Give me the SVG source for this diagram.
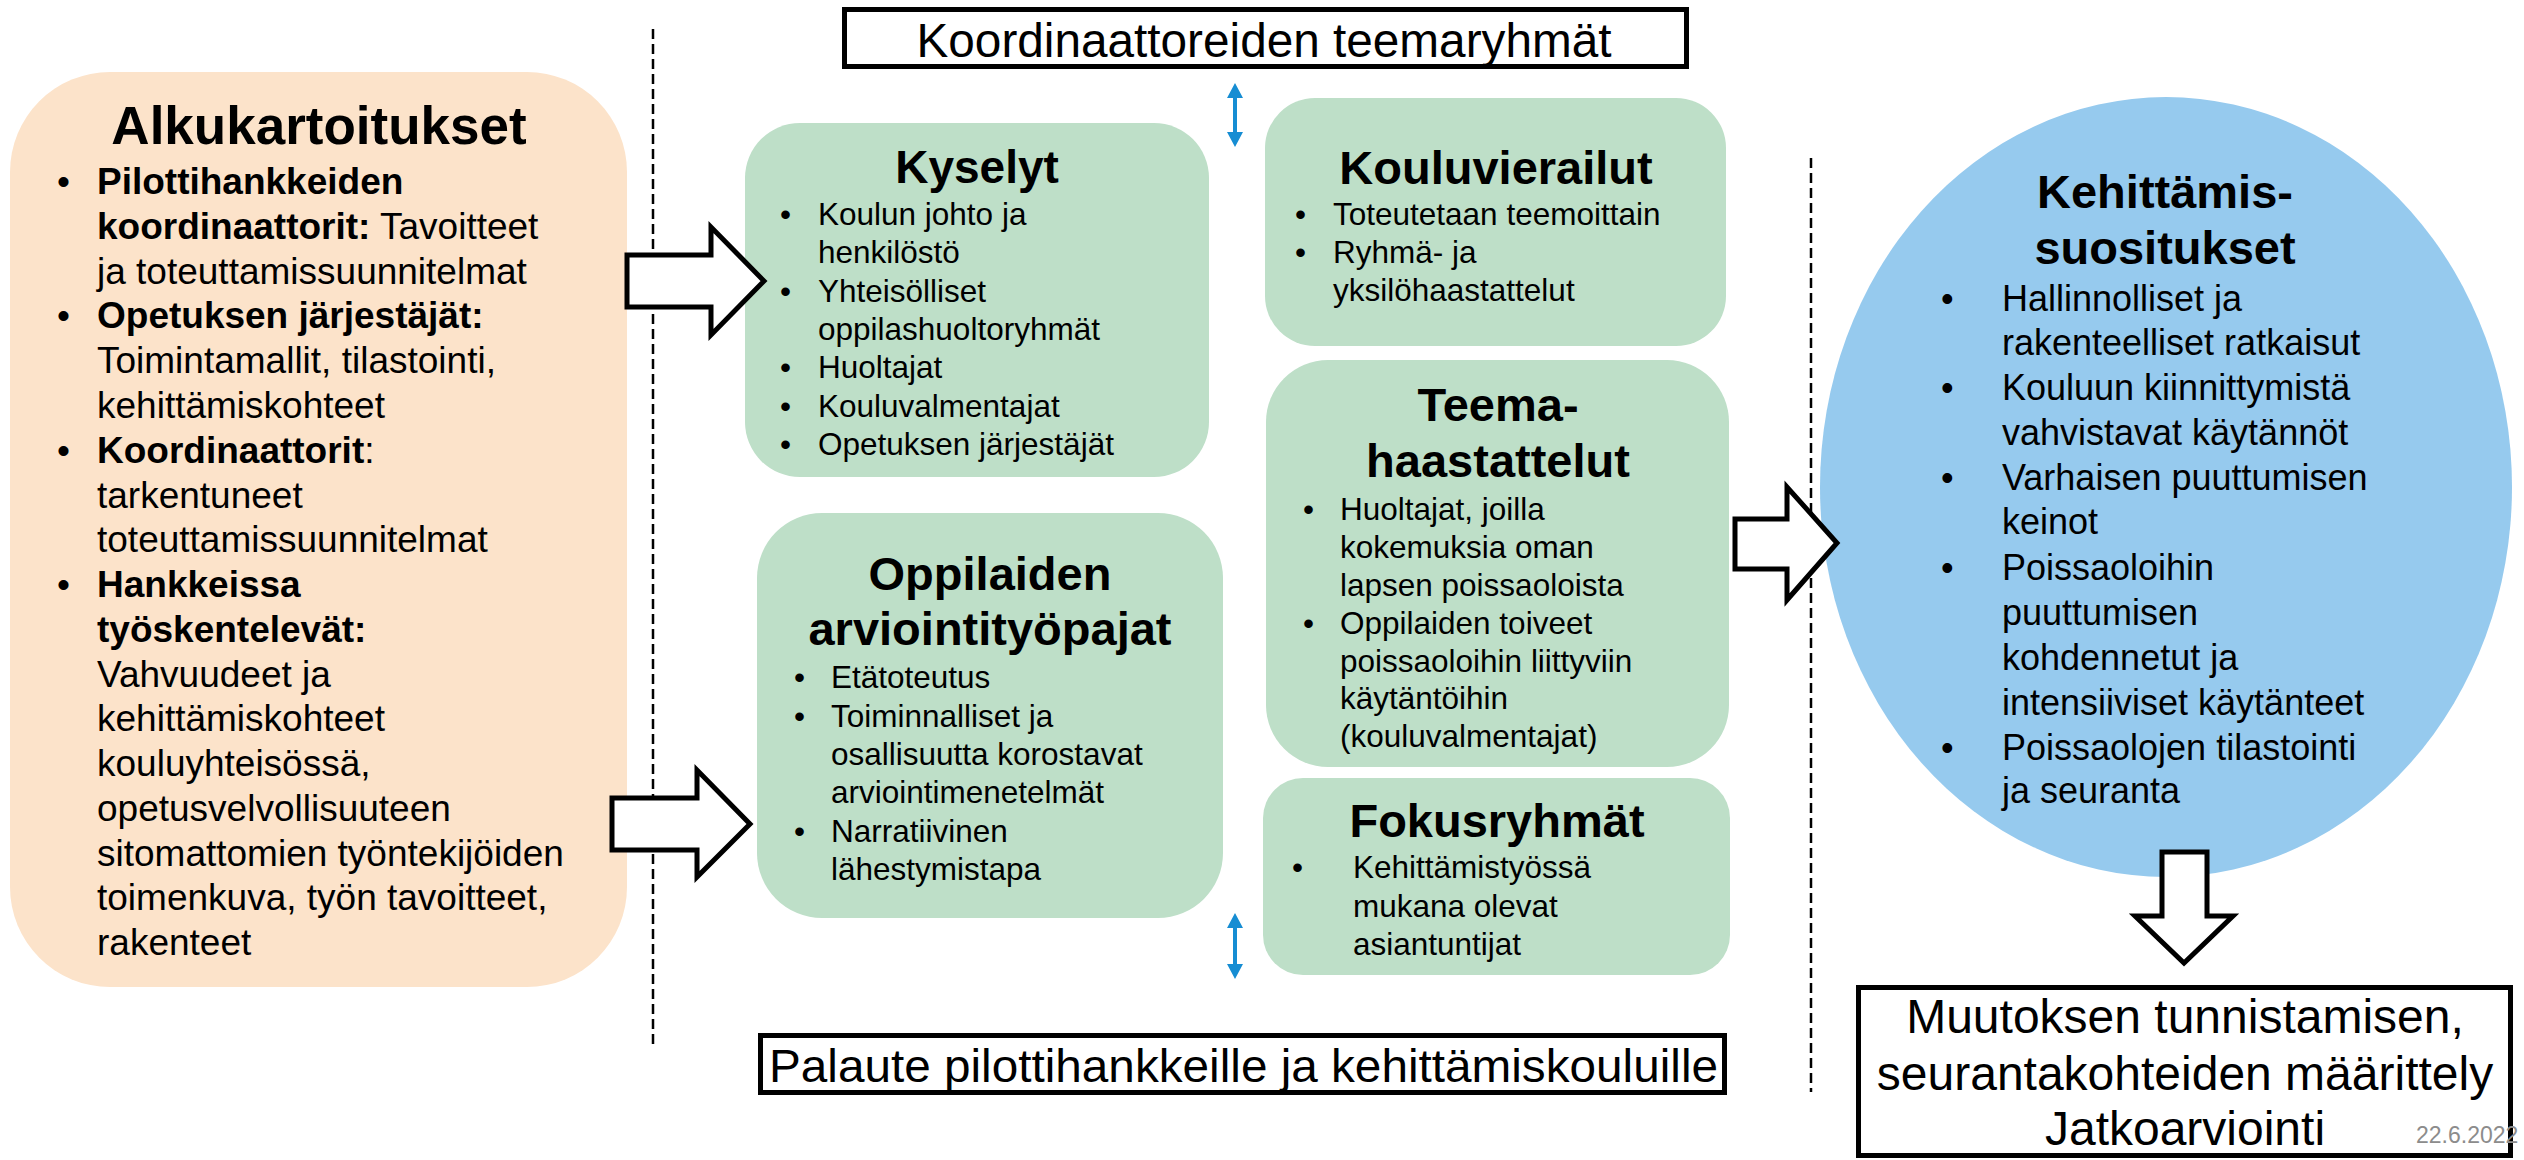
<svg xmlns="http://www.w3.org/2000/svg" width="2524" height="1160" viewBox="0 0 2524 1160">
<style>
text{font-family:"Liberation Sans",Arial,sans-serif;fill:#000}
.t{font-weight:bold;text-anchor:middle}
.lb{font-size:37px}
.gb{font-size:31.5px}
.eb{font-size:36px}
.b{font-weight:bold}
.green{fill:#BEDFC8}
.frame{fill:#fff;stroke:#000;stroke-width:5}
.blk{fill:#fff;stroke:#000;stroke-width:5;stroke-linejoin:miter}
.dash{stroke:#000;stroke-width:2.5;stroke-dasharray:10 5;fill:none}
.blue{fill:#168DD3}
</style>
<rect width="2524" height="1160" fill="#fff"/>

<g id="dividers">
<line class="dash" x1="653" y1="29" x2="653" y2="1045"/>
<line class="dash" x1="1811" y1="158" x2="1811" y2="1092"/>
</g>

<g id="alkukartoitukset">
<rect x="10" y="72" width="617" height="915" rx="100" fill="#FCE3CA"/>
<text class="t" x="319" y="144" font-size="53">Alkukartoitukset</text>
<g class="lb">
<text x="57" y="194">•</text><text x="97" y="194" class="b">Pilottihankkeiden</text>
<text x="97" y="239"><tspan class="b">koordinaattorit:</tspan> Tavoitteet</text>
<text x="97" y="284">ja toteuttamissuunnitelmat</text>
<text x="57" y="328">•</text><text x="97" y="328" class="b">Opetuksen järjestäjät:</text>
<text x="97" y="373">Toimintamallit, tilastointi,</text>
<text x="97" y="418">kehittämiskohteet</text>
<text x="57" y="463">•</text><text x="97" y="463"><tspan class="b">Koordinaattorit</tspan>:</text>
<text x="97" y="508">tarkentuneet</text>
<text x="97" y="552">toteuttamissuunnitelmat</text>
<text x="57" y="597">•</text><text x="97" y="597" class="b">Hankkeissa</text>
<text x="97" y="642" class="b">työskentelevät:</text>
<text x="97" y="687">Vahvuudeet ja</text>
<text x="97" y="731">kehittämiskohteet</text>
<text x="97" y="776">kouluyhteisössä,</text>
<text x="97" y="821">opetusvelvollisuuteen</text>
<text x="97" y="866">sitomattomien työntekijöiden</text>
<text x="97" y="910">toimenkuva, työn tavoitteet,</text>
<text x="97" y="955">rakenteet</text>
</g>
</g>

<g id="koordinaattorit">
<rect class="frame" x="844.5" y="9.5" width="842" height="57"/>
<text x="1264" y="57" font-size="48" text-anchor="middle" textLength="695" lengthAdjust="spacingAndGlyphs">Koordinaattoreiden teemaryhmät</text>
</g>

<g id="kyselyt">
<rect class="green" x="745" y="123" width="464" height="354" rx="55"/>
<text class="t" x="977" y="183" font-size="46">Kyselyt</text>
<g class="gb">
<text x="780" y="225">•</text><text x="818" y="225">Koulun johto ja</text>
<text x="818" y="263">henkilöstö</text>
<text x="780" y="302">•</text><text x="818" y="302">Yhteisölliset</text>
<text x="818" y="340">oppilashuoltoryhmät</text>
<text x="780" y="378">•</text><text x="818" y="378">Huoltajat</text>
<text x="780" y="417">•</text><text x="818" y="417">Kouluvalmentajat</text>
<text x="780" y="455">•</text><text x="818" y="455">Opetuksen järjestäjät</text>
</g>
</g>

<g id="oppilaiden">
<rect class="green" x="757" y="513" width="466" height="405" rx="65"/>
<text class="t" x="990" y="590" font-size="47">Oppilaiden</text>
<text class="t" x="990" y="645" font-size="47">arviointityöpajat</text>
<g class="gb">
<text x="794" y="688">•</text><text x="831" y="688">Etätoteutus</text>
<text x="794" y="727">•</text><text x="831" y="727">Toiminnalliset ja</text>
<text x="831" y="765">osallisuutta korostavat</text>
<text x="831" y="803">arviointimenetelmät</text>
<text x="794" y="842">•</text><text x="831" y="842">Narratiivinen</text>
<text x="831" y="880">lähestymistapa</text>
</g>
</g>

<g id="kouluvierailut">
<rect class="green" x="1265" y="98" width="461" height="248" rx="50"/>
<text class="t" x="1496" y="184" font-size="47">Kouluvierailut</text>
<g class="gb">
<text x="1295" y="225">•</text><text x="1333" y="225">Toteutetaan teemoittain</text>
<text x="1295" y="263">•</text><text x="1333" y="263">Ryhmä- ja</text>
<text x="1333" y="301">yksilöhaastattelut</text>
</g>
</g>

<g id="teemahaastattelut">
<rect class="green" x="1266" y="360" width="463" height="407" rx="62"/>
<text class="t" x="1498" y="421" font-size="47">Teema-</text>
<text class="t" x="1498" y="477" font-size="47">haastattelut</text>
<g class="gb">
<text x="1303" y="520">•</text><text x="1340" y="520">Huoltajat, joilla</text>
<text x="1340" y="558">kokemuksia oman</text>
<text x="1340" y="596">lapsen poissaoloista</text>
<text x="1303" y="634">•</text><text x="1340" y="634">Oppilaiden toiveet</text>
<text x="1340" y="672">poissaoloihin liittyviin</text>
<text x="1340" y="709">käytäntöihin</text>
<text x="1340" y="747">(kouluvalmentajat)</text>
</g>
</g>

<g id="fokusryhmat">
<rect class="green" x="1263" y="778" width="467" height="197" rx="40"/>
<text class="t" x="1497" y="837" font-size="47">Fokusryhmät</text>
<g class="gb">
<text x="1292" y="878">•</text><text x="1353" y="878">Kehittämistyössä</text>
<text x="1353" y="917">mukana olevat</text>
<text x="1353" y="955">asiantuntijat</text>
</g>
</g>

<g id="palaute">
<rect class="frame" x="760.5" y="1035.5" width="964" height="57"/>
<text x="1243.5" y="1082" font-size="47" text-anchor="middle" textLength="949" lengthAdjust="spacingAndGlyphs">Palaute pilottihankkeille ja kehittämiskouluille</text>
</g>

<g id="kehittamissuositukset">
<ellipse cx="2166" cy="487" rx="346" ry="390" fill="#96CAEE"/>
<text class="t" x="2165" y="208" font-size="47">Kehittämis-</text>
<text class="t" x="2165" y="264" font-size="47">suositukset</text>
<g class="eb">
<text x="1941" y="311">•</text><text x="2002" y="311">Hallinnolliset ja</text>
<text x="2002" y="355">rakenteelliset ratkaisut</text>
<text x="1941" y="400">•</text><text x="2002" y="400">Kouluun kiinnittymistä</text>
<text x="2002" y="445">vahvistavat käytännöt</text>
<text x="1941" y="490">•</text><text x="2002" y="490">Varhaisen puuttumisen</text>
<text x="2002" y="534">keinot</text>
<text x="1941" y="580">•</text><text x="2002" y="580">Poissaoloihin</text>
<text x="2002" y="625">puuttumisen</text>
<text x="2002" y="670">kohdennetut ja</text>
<text x="2002" y="715">intensiiviset käytänteet</text>
<text x="1941" y="760">•</text><text x="2002" y="760">Poissaolojen tilastointi</text>
<text x="2002" y="803">ja seuranta</text>
</g>
</g>

<g id="muutoksen">
<rect class="frame" x="1858.5" y="987.5" width="652" height="168"/>
<g font-size="48" text-anchor="middle">
<text x="2185" y="1033">Muutoksen tunnistamisen,</text>
<text x="2185" y="1090">seurantakohteiden määrittely</text>
<text x="2185" y="1145">Jatkoarviointi</text>
</g>
</g>

<g id="connectors">
<polygon class="blk" points="627,255 711,255 711,227 764,281 711,335 711,307 627,307"/>
<polygon class="blk" points="612,798 697,798 697,770 750,824 697,877 697,850 612,850"/>
<polygon class="blk" points="1735,519 1787,519 1787,487 1837,543 1787,600 1787,569 1735,569"/>
<polygon class="blk" points="2162,852 2207,852 2207,916 2233,916 2184,963 2135,916 2162,916"/>
<path class="blue" d="M1235,83 L1243,98 L1237,98 L1237,132 L1243,132 L1235,147 L1227,132 L1233,132 L1233,98 L1227,98 Z"/>
<path class="blue" d="M1235,913 L1243,928 L1237,928 L1237,964 L1243,964 L1235,979 L1227,964 L1233,964 L1233,928 L1227,928 Z"/>
</g>

<text id="date" x="2416" y="1143" font-size="23" style="fill:#8C8C8C">22.6.2022</text>
</svg>
